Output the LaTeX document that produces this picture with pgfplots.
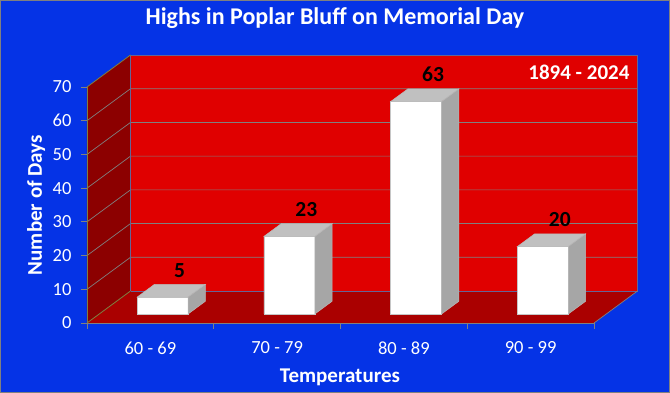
\documentclass[border=0pt]{standalone}
\usepackage{pgfplots}
\pgfplotsset{compat=1.18}
\usepackage{pgfplotstable}
\usepackage{fontspec}
\setmainfont{Carlito}
\definecolor{bg}{RGB}{5,51,230}
\definecolor{wall}{RGB}{224,0,0}
\definecolor{floorc}{RGB}{170,0,0}
\definecolor{lwall}{RGB}{140,0,0}
\definecolor{topg}{RGB}{192,192,192}
\definecolor{sideg}{RGB}{166,166,166}
\definecolor{olivel}{RGB}{128,128,64}
\definecolor{gridc}{RGB}{128,128,128}
\definecolor{edgec}{RGB}{100,100,150}

\pgfplotstableread{
x v
0.5 5
1.5 23
2.5 63
3.5 20
}\datatable

% top and right faces of a bar, drawn from the top-front-centre point
\pgfdeclareplotmark{cuboid}{%
  \pgfmathsetmacro\hh{\val*3.371428}%
  \pgfsetfillcolor{topg}%
  \pgfpathmoveto{\pgfpoint{-25.5pt}{0pt}}%
  \pgfpathlineto{\pgfpoint{25.5pt}{0pt}}%
  \pgfpathlineto{\pgfpoint{42.9pt}{12.8pt}}%
  \pgfpathlineto{\pgfpoint{-8.1pt}{12.8pt}}%
  \pgfpathclose
  \pgfusepath{fill,stroke}%
  \pgfsetfillcolor{sideg}%
  \pgfpathmoveto{\pgfpoint{25.5pt}{0pt}}%
  \pgfpathlineto{\pgfpoint{42.9pt}{12.8pt}}%
  \pgfpathlineto{\pgfpoint{42.9pt}{12.8pt-\hh pt}}%
  \pgfpathlineto{\pgfpoint{25.5pt}{-\hh pt}}%
  \pgfpathclose
  \pgfusepath{fill,stroke}%
}

\begin{document}
\begin{tikzpicture}[x=1pt,y=1pt]
\fill[bg] (0,0) rectangle (670,393);
\draw[gray, line width=1pt] (0.5,0.5) rectangle (669.5,392.5);
\begin{axis}[
  at={(87pt,70pt)}, anchor=south west,
  scale only axis, width=507pt, height=236pt,
  xmin=0, xmax=4, ymin=0, ymax=70,
  clip=false,
  axis on top,
  axis x line*=bottom, axis y line*=left,
  x axis line style={gridc, line width=0.8pt},
  y axis line style={olivel, line width=0.8pt},
  xtick={0,1,2,3,4},
  xticklabels={60 - 69,70 - 79,80 - 89,90 - 99},
  x tick label as interval,
  ytick={0,10,...,70},
  tick align=outside,
  major tick length=6pt,
  tick style={gridc, line width=0.8pt},
  /pgf/number format/assume math mode=true,
  ticklabel style={font=\fontsize{18.5}{20}\selectfont, text=white},
  xticklabel style={yshift=-9pt},
  yticklabel style={xshift=-6pt},
  title={Highs in Poplar Bluff on Memorial Day},
  title style={at={(rel axis cs:0.489,1.2415)}, anchor=base, font=\bfseries\fontsize{24}{26}\selectfont, text=white},
  xlabel={Temperatures},
  xlabel style={at={(rel axis cs:0.499,-0.2542)}, anchor=base, font=\bfseries\fontsize{21}{23}\selectfont, text=white},
  ylabel={Number of Days},
  ylabel style={at={(rel axis cs:-0.0888,0.5)}, anchor=base, font=\bfseries\fontsize{21}{23}\selectfont, text=white},
]
% walls and floor
\fill[wall] (0.3432,9.49) rectangle (4.3432,79.49);
\fill[floorc] (0,0) -- (4,0) -- (4.3432,9.49) -- (0.3432,9.49) -- cycle;
\fill[lwall] (0,0) -- (0,70) -- (0.3432,79.49) -- (0.3432,9.49) -- cycle;
\pgfplotsinvokeforeach{10,20,30,40,50,60}{
  \draw[gridc, line width=0.7pt] (0,#1) -- (0.3432,#1+9.49) -- (4.3432,#1+9.49);
}
\draw[edgec, line width=0.7pt] (0.3432,9.49) -- (0.3432,79.49) -- (4.3432,79.49) -- (4.3432,9.49) -- (0.3432,9.49);
\draw[gridc, line width=0.7pt] (4,0) -- (4.3432,9.49);
\draw[olivel, line width=0.8pt] (0,0) -- (0.3432,9.49);
\draw[olivel, line width=0.8pt] (0,70) -- (0.3432,79.49);
\node[anchor=base east, text=white, font=\bfseries\fontsize{21}{23}\selectfont] at (4.3077,72.08) {1894 - 2024};
% bars: top and side faces
\addplot[xshift=12.2pt, yshift=9pt, only marks, mark=cuboid,
  mark options={draw=gray!55, line width=0.5pt},
  visualization depends on={\thisrow{v} \as \val}]
  table[x=x, y=v] {\datatable};
% bars: front faces with values
\addplot[ybar, bar width=51pt, fill=white, draw=gray!45, line width=0.6pt,
  xshift=12.2pt, yshift=9pt,
  nodes near coords,
  nodes near coords style={font=\bfseries\fontsize{21.5}{23}\selectfont, text=black, anchor=center, xshift=17pt, yshift=27pt}]
  table[x=x, y=v] {\datatable};
\end{axis}
\end{tikzpicture}
\end{document}
